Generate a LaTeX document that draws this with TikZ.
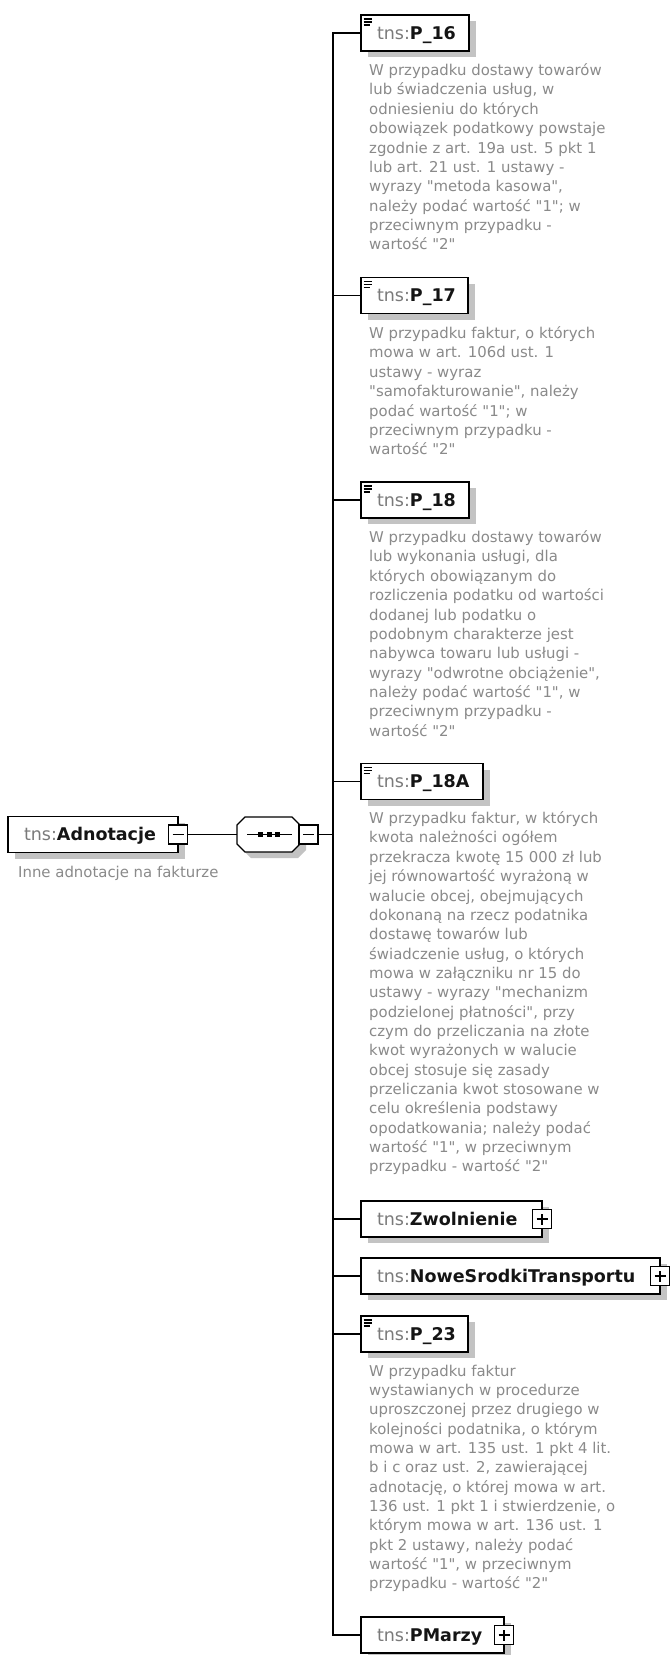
\documentclass[tikz,border=0pt]{standalone}
\usepackage{fontspec}
\setmainfont{DejaVu Sans}
\newfontfamily\descff{DejaVu Sans}
\usetikzlibrary{shadows}
\definecolor{descgray}{HTML}{8A8A8A}
\definecolor{nsgray}{HTML}{7A7A7A}
\definecolor{namecol}{HTML}{141414}
\definecolor{shadowgray}{HTML}{C3C3C3}
\newcommand{\descfont}{\descff\fontsize{14.9}{19.35}\selectfont}
\newcommand{\titlefont}{\fontsize{17.5}{20}\selectfont}
\newcommand{\ename}[1]{{\color{nsgray}tns:}{\color{namecol}\bfseries #1}}
\begin{document}
\begin{tikzpicture}[x=1pt,y=-1pt,
  conn/.style={draw=black, line width=1.3pt},
  elem/.style={draw=black, line width=1.3pt, fill=white, rectangle, outer sep=0pt,
    inner xsep=16pt, inner ysep=0pt, minimum height=36pt, anchor=west, align=left,
    font=\titlefont, text height=12.8pt, text depth=0pt,
    general shadow={fill=shadowgray, shadow xshift=7pt, shadow yshift=-6pt}},
  tog/.style={draw=black, line width=1.5pt, fill=white, rectangle, minimum size=19pt,
    inner sep=0pt, outer sep=0pt},
  togminus/.style={tog, path picture={\draw[line width=1.2pt]
    ([xshift=-5.5pt]path picture bounding box.center) --
    ([xshift=5.5pt]path picture bounding box.center);}},
  togplus/.style={tog, path picture={\draw[line width=1.2pt]
    ([xshift=-5.5pt]path picture bounding box.center) --
    ([xshift=5.5pt]path picture bounding box.center)
    ([yshift=-5.5pt]path picture bounding box.center) --
    ([yshift=5.5pt]path picture bounding box.center);}},
  desc/.style={anchor=north west, inner sep=0pt, align=left, text=descgray,
    font=\descfont, execute at begin node=\strut},
  docicon/.pic={\draw[line width=1.2pt] (2.5,4) -- (11,4) (2.5,7) -- (11,7) (2.5,10) -- (9,10);}
]
\fill[white] (0,0) rectangle (670,1655);
\useasboundingbox (0,0) rectangle (670,1655);

% coordinates
\coordinate (bar) at (333,834.5);

% root element
\node[elem, text width=138pt] (adn) at (8,834.5) {\ename{Adnotacje}};
\node[togminus] (adnm) at (adn.east) {};
\node[desc] (adnd) at (18,863.5) {Inne adnotacje na fakturze};

% sequence compositor
\node[minimum width=63pt, minimum height=35pt, inner sep=0pt, outer sep=0pt] (seq) at (268.5,834.5) {};
\fill[shadowgray] (251,823) -- (298,823) -- (306,831) -- (306,850) -- (298,858) -- (251,858) -- (243,850) -- (243,831) -- cycle;
\draw[line width=1.3pt, fill=white] (245,817) -- (292,817) -- (300,825) -- (300,844) -- (292,852) -- (245,852) -- (237,844) -- (237,825) -- cycle;
\draw[line width=1.2pt] ([xshift=-21.5pt]seq.center) -- ([xshift=23.5pt]seq.center);
\foreach \dx in {-7.7,0.7,9} \fill ([xshift=\dx pt]seq.center) +(-2.5,-2.5) rectangle +(2.5,2.5);
\node[togminus] (seqm) at (308.5,834.5) {};

\draw[conn] (adnm.east) -- (seq.west);
\draw[conn] (seqm.east) -- (bar);

% children
\node[elem, text width=76pt] (p16) at (361,33) {\ename{P\_16}};
\node[elem, text width=75pt] (p17) at (361,295.5) {\ename{P\_17}};
\node[elem, text width=76pt] (p18) at (361,500) {\ename{P\_18}};
\node[elem, text width=90pt] (p18a) at (361,781.5) {\ename{P\_18A}};
\node[elem, text width=149pt] (zw) at (361,1219) {\ename{Zwolnienie}};
\node[elem, text width=267pt] (nst) at (361,1276) {\ename{NoweSrodkiTransportu}};
\node[elem, text width=75pt] (p23) at (361,1334) {\ename{P\_23}};
\node[elem, text width=111pt] (pm) at (361,1635) {\ename{PMarzy}};

\foreach \n in {p16,p17,p18,p18a,p23} \pic at (\n.north west) {docicon};

\node[togplus] (zwp) at (zw.east) {};
\node[togplus] (nstp) at (nst.east) {};
\node[togplus] (pmp) at (pm.east) {};

\draw[conn] (p16.west) -- (p16.west -| bar) -- (pm.west -| bar) -- (pm.west);
\foreach \n in {p17,p18,p18a,zw,nst,p23} \draw[conn] (\n.west) -- (\n.west -| bar);

% descriptions
\node[desc] (p16d) at (369,63.5) {W przypadku dostawy towarów\\
lub świadczenia usług, w\\
odniesieniu do których\\
obowiązek podatkowy powstaje\\
zgodnie z art. 19a ust. 5 pkt 1\\
lub art. 21 ust. 1 ustawy -\\
wyrazy "metoda kasowa",\\
należy podać wartość "1"; w\\
przeciwnym przypadku -\\
wartość "2"};

\node[desc] (p17d) at (369,326.5) {W przypadku faktur, o których\\
mowa w art. 106d ust. 1\\
ustawy - wyraz\\
"samofakturowanie", należy\\
podać wartość "1"; w\\
przeciwnym przypadku -\\
wartość "2"};

\node[desc] (p18d) at (369,530.5) {W przypadku dostawy towarów\\
lub wykonania usługi, dla\\
których obowiązanym do\\
rozliczenia podatku od wartości\\
dodanej lub podatku o\\
podobnym charakterze jest\\
nabywca towaru lub usługi -\\
wyrazy "odwrotne obciążenie",\\
należy podać wartość "1", w\\
przeciwnym przypadku -\\
wartość "2"};

\node[desc] (p18ad) at (369,811.5) {W przypadku faktur, w których\\
kwota należności ogółem\\
przekracza kwotę 15 000 zł lub\\
jej równowartość wyrażoną w\\
walucie obcej, obejmujących\\
dokonaną na rzecz podatnika\\
dostawę towarów lub\\
świadczenie usług, o których\\
mowa w załączniku nr 15 do\\
ustawy - wyrazy "mechanizm\\
podzielonej płatności", przy\\
czym do przeliczania na złote\\
kwot wyrażonych w walucie\\
obcej stosuje się zasady\\
przeliczania kwot stosowane w\\
celu określenia podstawy\\
opodatkowania; należy podać\\
wartość "1", w przeciwnym\\
przypadku - wartość "2"};

\node[desc] (p23d) at (369,1364.5) {W przypadku faktur\\
wystawianych w procedurze\\
uproszczonej przez drugiego w\\
kolejności podatnika, o którym\\
mowa w art. 135 ust. 1 pkt 4 lit.\\
b i c oraz ust. 2, zawierającej\\
adnotację, o której mowa w art.\\
136 ust. 1 pkt 1 i stwierdzenie, o\\
którym mowa w art. 136 ust. 1\\
pkt 2 ustawy, należy podać\\
wartość "1", w przeciwnym\\
przypadku - wartość "2"};
\end{tikzpicture}
\end{document}
